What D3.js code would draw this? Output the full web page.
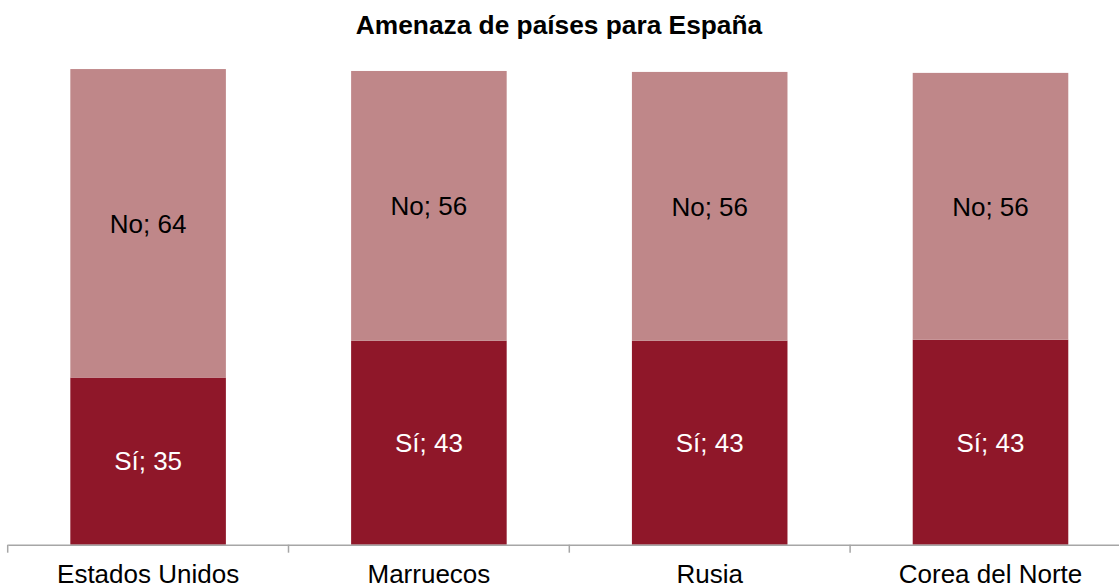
<!DOCTYPE html>
<html>
<head>
<meta charset="utf-8">
<script src="https://cdn.jsdelivr.net/npm/d3@7"></script>
<style>
  html, body { margin: 0; padding: 0; background: #fff; }
  svg { display: block; font-family: "Liberation Sans", Arial, sans-serif; }
</style>
</head>
<body>
<svg id="chart" width="1119" height="588"></svg>
<script>
const title = "Amenaza de países para España";
const categories = ["Estados Unidos", "Marruecos", "Rusia", "Corea del Norte"];
const seriesNames = ["Sí", "No"];
const siValues = [34.9, 42.6, 42.6, 42.8];
const noValues = [64.4, 56.3, 56.1, 55.7];
const seriesColors = ["#8f1729", "#bf8789"];
const labelColors = ["#ffffff", "#000000"];

const svg = d3.select("#chart");
const baseY = 544.7;
const left = 7.7, step = 280.8;

const x = d3.scaleBand()
  .domain(categories)
  .range([left, left + step * categories.length])
  .paddingInner(0.446)
  .paddingOuter(0.223);

const y = d3.scaleLinear().domain([0, 100]).range([baseY, baseY - 479]);

const rows = categories.map((c, i) => ({ cat: c, "Sí": siValues[i], "No": noValues[i] }));
const stack = d3.stack().keys(seriesNames)(rows);

// title
svg.append("text")
  .attr("x", 559)
  .attr("y", 34)
  .attr("text-anchor", "middle")
  .attr("font-weight", "bold")
  .attr("font-size", 26.3)
  .attr("fill", "#000")
  .text(title);

// bars
const layers = svg.append("g").selectAll("g")
  .data(stack).join("g")
  .attr("fill", (d, i) => seriesColors[i]);

layers.selectAll("rect")
  .data(d => d.map(v => ({ v, key: d.key })))
  .join("rect")
  .attr("x", d => x(d.v.data.cat))
  .attr("width", x.bandwidth())
  .attr("y", d => y(d.v[1]))
  .attr("height", d => y(d.v[0]) - y(d.v[1]));

// data labels
const fmt = d3.format(".0f");
const fs = 26;
stack.forEach((layer, li) => {
  svg.append("g").selectAll("text")
    .data(layer).join("text")
    .attr("x", d => x(d.data.cat) + x.bandwidth() / 2)
    .attr("y", d => (y(d[0]) + y(d[1])) / 2 + fs * 0.358)
    .attr("text-anchor", "middle")
    .attr("font-size", fs)
    .attr("fill", labelColors[li])
    .text(d => layer.key + "; " + fmt(d[1] - d[0]));
});

// axis
const axis = d3.axisBottom(x).tickSize(0).tickPadding(0);
const gAxis = svg.append("g").attr("transform", `translate(0,${baseY})`).call(axis);
gAxis.select(".domain").attr("stroke", "#a6a6a6").attr("stroke-width", 1.5);
gAxis.selectAll(".tick text")
  .attr("font-size", 26)
  .attr("font-family", "Liberation Sans, Arial, sans-serif")
  .attr("fill", "#000")
  .attr("dy", null)
  .attr("y", 38);

// tick marks at category boundaries
const boundaries = categories.map(c => x(c) - x.step() * x.paddingOuter());
gAxis.selectAll(".bound")
  .data(boundaries).join("line")
  .attr("class", "bound")
  .attr("x1", d => d).attr("x2", d => d)
  .attr("y1", 0).attr("y2", 8)
  .attr("stroke", "#a6a6a6").attr("stroke-width", 1.5);
</script>
</body>
</html>
